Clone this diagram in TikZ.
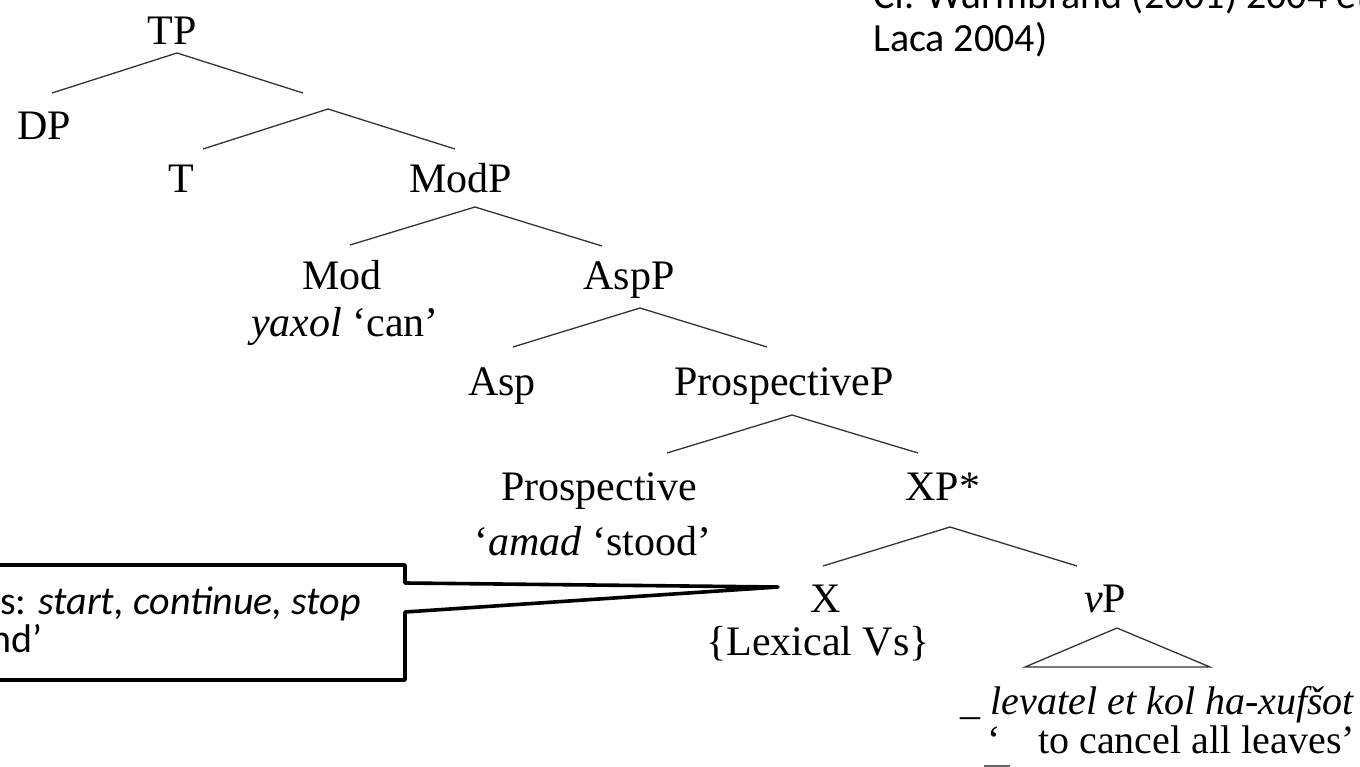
\documentclass[tikz,border=0pt]{standalone}
\usepackage{fontspec}
\newfontfamily\treefont{Liberation Serif}
\newfontfamily\notefont{Carlito}
\begin{document}
\begin{tikzpicture}[x=1pt,y=-1pt,
  lbl/.style={font=\treefont\fontsize{42}{50}\selectfont, inner sep=0pt, anchor=base},
  gloss/.style={font=\treefont\fontsize{40}{48}\selectfont, inner sep=0pt, anchor=base east},
  note/.style={font=\notefont\fontsize{40}{46}\selectfont, inner sep=0pt, anchor=base west},
  branch/.style={draw=black!80, line width=1.3pt},
  callout/.style={draw=black, line width=3.6pt, line join=round, fill=white},
  blank/.style={draw=black!60, line width=2pt}]
\useasboundingbox (0,0) rectangle (1360,767);
\clip (0,0) rectangle (1360,767);

% reference note, top right
\node[note] (cite1) at (873,9) {Cf. Wurmbrand (2001) 2004 et};
\node[note] (cite2) at (873,52) {Laca 2004)};

% tree labels
\node[lbl] (TP)    at (172,45)  {TP};
\node[lbl] (DP)    at (44,140)  {DP};
\node[lbl] (T)     at (181,193) {T};
\node[lbl] (ModP)  at (461,193) {ModP};
\node[lbl] (Mod)   at (342,290) {Mod};
\node[lbl] (yaxol) at (345,337) {\textit{yaxol} ‘can’};
\node[lbl] (AspP)  at (629,290) {AspP};
\node[lbl] (Asp)   at (502,395) {Asp};
\node[lbl] (ProsP) at (784,395) {ProspectiveP};
\node[lbl] (Pros)  at (599,500) {Prospective};
\node[lbl] (amad)  at (593,555) {‘\textit{amad} ‘stood’};
\node[lbl] (XP)    at (943,500) {XP*};
\node[lbl] (X)     at (826,612) {X};
\node[lbl] (Lex)   at (818,655) {\{Lexical Vs\}};
\node[lbl] (vP)    at (1105,612) {\textit{v}P};
\node[gloss] (heb) at (1355,714) {\_ \textit{levatel et kol ha-xufšot}};
\node[gloss] (eng) at (1355,753) {‘\hspace{28pt} to cancel all leaves’};

% branch points
\coordinate (tpA) at (177,53);  \coordinate (tpL) at (52,93);   \coordinate (tpR) at (303,93);
\coordinate (tbA) at (328,109); \coordinate (tbL) at (203,149); \coordinate (tbR) at (455,149);
\coordinate (mpA) at (475,207); \coordinate (mpL) at (350,245); \coordinate (mpR) at (602,246);
\coordinate (apA) at (640,308); \coordinate (apL) at (513,347); \coordinate (apR) at (767,347);
\coordinate (ppA) at (792,415); \coordinate (ppL) at (667,453); \coordinate (ppR) at (918,453);
\coordinate (xpA) at (950,527); \coordinate (xpL) at (823,566); \coordinate (xpR) at (1077,566);
\coordinate (vpA) at (1117,628); \coordinate (vpL) at (1025,667); \coordinate (vpR) at (1210,667);

\draw[branch] (tpL) -- (tpA) -- (tpR);
\draw[branch] (tbL) -- (tbA) -- (tbR);
\draw[branch] (mpL) -- (mpA) -- (mpR);
\draw[branch] (apL) -- (apA) -- (apR);
\draw[branch] (ppL) -- (ppA) -- (ppR);
\draw[branch] (xpL) -- (xpA) -- (xpR);
\draw[branch] (vpA) -- (vpL) -- (vpR) -- cycle;

% blank of the gloss line
\coordinate (gapL) at (984,765.5); \coordinate (gapR) at (1010,765.5);
\draw[blank] (gapL) -- (gapR);

% callout box pointing at X
\coordinate (cTip) at (778,587);
\draw[callout] (-20,565) -- (405,565) -- (405,583) -- (cTip) -- (405,612)
  -- (405,680) -- (-20,680) -- cycle;
\node[note] (call1) at (0,614) {s: \textit{start, continue, stop}};
\node[note] (call2) at (-10,652) {nd’};
\end{tikzpicture}
\end{document}
